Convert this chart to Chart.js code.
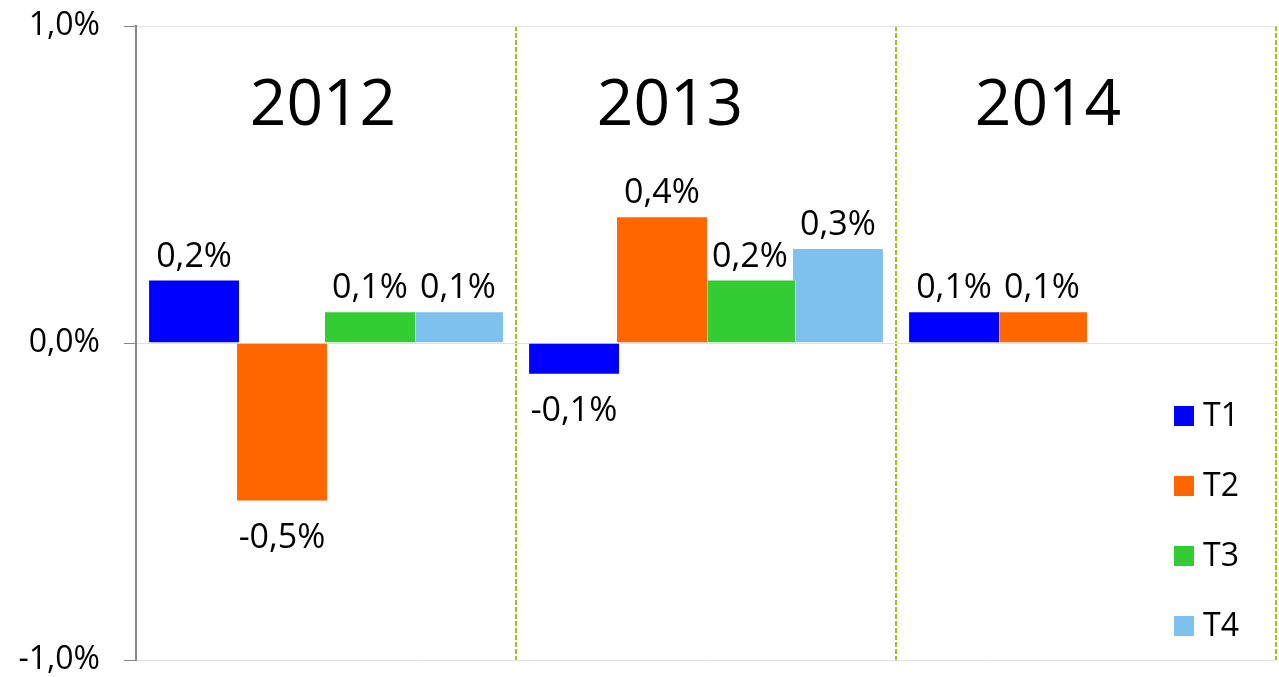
<!DOCTYPE html>
<html>
<head>
<meta charset="utf-8">
<script src="https://cdn.jsdelivr.net/npm/chart.js@4"></script>
<style>
html, body { margin: 0; padding: 0; background: #fff; }
#wrap { width: 1279px; height: 677px; }
</style>
</head>
<body>
<div id="wrap"><canvas id="bar-chart"></canvas></div>
<script>
const years = ["2012", "2013", "2014"];
const seriesNames = ["T1", "T2", "T3", "T4"];
const t1 = [0.2, -0.1, 0.1];
const t2 = [-0.5, 0.4, 0.1];
const t3 = [0.1, 0.2, null];
const t4 = [0.1, 0.3, null];
const yTicks = [-1, 0, 1];

const colors = ["#0000ff", "#ff6600", "#33cc33", "#7fc1ee"];
const FONT = "'Open Sans', sans-serif";

const fmt = v => v.toFixed(1).replace('.', ',') + '%';

// data labels, year titles and the legend inside the plot
const extras = {
  id: 'extras',
  afterDatasetsDraw(chart) {
    const ctx = chart.ctx;
    const area = chart.chartArea;
    const x = chart.scales.x;
    ctx.save();
    ctx.fillStyle = '#000';
    ctx.textAlign = 'center';
    ctx.textBaseline = 'alphabetic';
    ctx.font = "34px " + FONT;
    chart.data.datasets.forEach((ds, i) => {
      chart.getDatasetMeta(i).data.forEach((bar, j) => {
        const v = ds.data[j];
        if (v === null) return;
        const y = v >= 0 ? bar.y - 13 : bar.y + 46;
        ctx.fillText(fmt(v), bar.x, y);
      });
    });

    ctx.font = "64px " + FONT;
    const shift = [-3, -36, -38];
    years.forEach((yr, i) => {
      ctx.fillText(yr, x.getPixelForValue(i) + shift[i], area.top + 99);
    });

    ctx.font = "32px " + FONT;
    ctx.textAlign = 'left';
    ctx.textBaseline = 'middle';
    chart.data.datasets.forEach((ds, i) => {
      const cy = area.bottom - 244 + i * 70;
      ctx.fillStyle = ds.backgroundColor;
      ctx.fillRect(area.right - 102, cy - 10, 20, 20);
      ctx.fillStyle = '#000';
      ctx.fillText(ds.label, area.right - 73, cy + 1);
    });
    ctx.restore();
  }
};

new Chart(document.getElementById("bar-chart"), {
  type: 'bar',
  data: {
    labels: years,
    datasets: [t1, t2, t3, t4].map((d, i) => ({
      label: seriesNames[i],
      data: d,
      backgroundColor: colors[i],
      borderColor: 'rgba(255,255,255,0.45)',
      borderWidth: 1,
      categoryPercentage: 0.926,
      barPercentage: 1.045
    }))
  },
  options: {
    responsive: true,
    maintainAspectRatio: false,
    animation: false,
    layout: { padding: { top: 26, right: 3, bottom: 17, left: 0 } },
    plugins: {
      legend: { display: false },
      tooltip: { enabled: false }
    },
    scales: {
      x: {
        afterFit: s => { s.height = 0; s.paddingLeft = 0; s.paddingRight = 0; },
        ticks: { display: false },
        grid: {
          offset: true,
          drawTicks: false,
          lineWidth: 2,
          color: c => c.index === 0 ? 'rgba(0,0,0,0)' : '#9cc41a'
        },
        border: { display: false, dash: [5, 2] }
      },
      y: {
        min: -1,
        max: 1,
        afterBuildTicks: s => { s.ticks = yTicks.map(v => ({ value: v })); },
        afterFit: s => { s.width = 136; s.paddingTop = 0; s.paddingBottom = 0; },
        ticks: {
          padding: 24,
          color: '#000',
          font: { family: FONT, size: 32 },
          callback: v => fmt(v)
        },
        grid: { color: '#e2e2e2', tickColor: '#888', tickLength: 12, lineWidth: 1 },
        border: { color: '#888', width: 2 }
      }
    }
  },
  plugins: [extras]
});
</script>
</body>
</html>
